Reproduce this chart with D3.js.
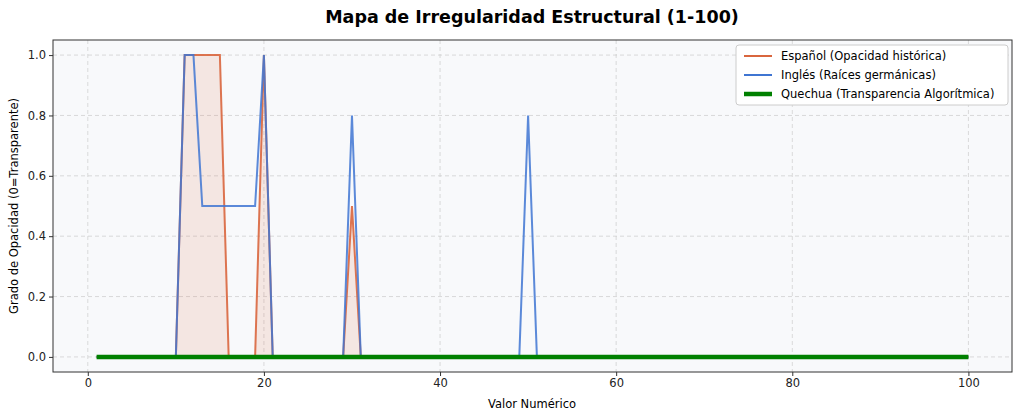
<!DOCTYPE html><html><head><meta charset="utf-8"><script src="https://cdn.jsdelivr.net/npm/d3@7"></script>
<style>body{margin:0;background:#fff;font-family:"DejaVu Sans",sans-serif}</style></head><body><svg id="c" width="1024" height="416"></svg>
<script>
const xs = d3.range(1,101);
const spanishPts = {11:1,12:1,13:1,14:1,15:1,20:1,30:0.5};
const englishPts = {11:1,12:1,13:0.5,14:0.5,15:0.5,16:0.5,17:0.5,18:0.5,19:0.5,20:1,30:0.8,50:0.8};
const spanish = xs.map(x=>spanishPts[x]||0);
const english = xs.map(x=>englishPts[x]||0);
const quechua = xs.map(()=>0);
const xTicks=[0,20,40,60,80,100], yTicks=[0,0.2,0.4,0.6,0.8,1.0];
const svg=d3.select("#c");
const L=53,R=1012,T=40,B=372;
const x=d3.scaleLinear().domain([-3.95,104.95]).range([L,R]);
const y=d3.scaleLinear().domain([-0.05,1.05]).range([B,T]);
svg.append("rect").attr("x",L).attr("y",T).attr("width",R-L).attr("height",B-T).attr("fill","#f8f9fb");
const g=svg.append("g");
xTicks.forEach(t=>g.append("line").attr("x1",x(t)).attr("x2",x(t)).attr("y1",T).attr("y2",B).attr("stroke","#ccc").attr("stroke-dasharray","4,3").attr("stroke-width",0.7));
yTicks.forEach(t=>g.append("line").attr("y1",y(t)).attr("y2",y(t)).attr("x1",L).attr("x2",R).attr("stroke","#ccc").attr("stroke-dasharray","4,3").attr("stroke-width",0.7));
const area=d3.area().x((d,i)=>x(xs[i])).y0(y(0)).y1(d=>y(d));
const line=d3.line().x((d,i)=>x(xs[i])).y(d=>y(d));
svg.append("path").attr("d",area(spanish)).attr("fill","#e07b55").attr("opacity",0.15);
svg.append("path").attr("d",line(spanish)).attr("fill","none").attr("stroke","#d9663e").attr("stroke-width",2).attr("opacity",0.9);
svg.append("path").attr("d",line(english)).attr("fill","none").attr("stroke","#3f75d2").attr("stroke-width",2).attr("opacity",0.85);
svg.append("path").attr("d",line(quechua)).attr("fill","none").attr("stroke","#008000").attr("stroke-width",4.5);
svg.append("rect").attr("x",L).attr("y",T).attr("width",R-L).attr("height",B-T).attr("fill","none").attr("stroke","#333").attr("stroke-width",1);
const xa=svg.append("g").attr("transform",`translate(0,${B})`).call(d3.axisBottom(x).tickValues(xTicks).tickSize(4).tickFormat(d3.format("d")));
const ya=svg.append("g").attr("transform",`translate(${L},0)`).call(d3.axisLeft(y).tickValues(yTicks).tickSize(4).tickFormat(d3.format(".1f")));
[xa,ya].forEach(a=>{a.select(".domain").remove();a.selectAll("text").attr("font-size",11.5).attr("fill","#222").attr("font-family","DejaVu Sans");a.selectAll("line").attr("stroke","#333");});
svg.append("text").attr("x",532).attr("y",23).attr("text-anchor","middle").attr("font-weight","bold").attr("font-size",17.5).text("Mapa de Irregularidad Estructural (1-100)");
svg.append("text").attr("x",532).attr("y",408).attr("text-anchor","middle").attr("font-size",11.5).text("Valor Numérico");
svg.append("text").attr("transform","translate(18,206) rotate(-90)").attr("text-anchor","middle").attr("font-size",11.5).text("Grado de Opacidad (0=Transparente)");
const lg=svg.append("g");
lg.append("rect").attr("x",736).attr("y",45).attr("width",272).attr("height",60).attr("rx",3).attr("fill","#fff").attr("stroke","#ccc");
const items=[["Español (Opacidad histórica)","#d9663e",2],["Inglés (Raíces germánicas)","#3f75d2",2],["Quechua (Transparencia Algorítmica)","#008000",4.5]];
items.forEach((it,i)=>{const yy=56+i*19;lg.append("line").attr("x1",744).attr("x2",772).attr("y1",yy).attr("y2",yy).attr("stroke",it[1]).attr("stroke-width",it[2]);
lg.append("text").attr("x",781).attr("y",yy+4).attr("font-size",11.5).text(it[0]);});
</script></body></html>
